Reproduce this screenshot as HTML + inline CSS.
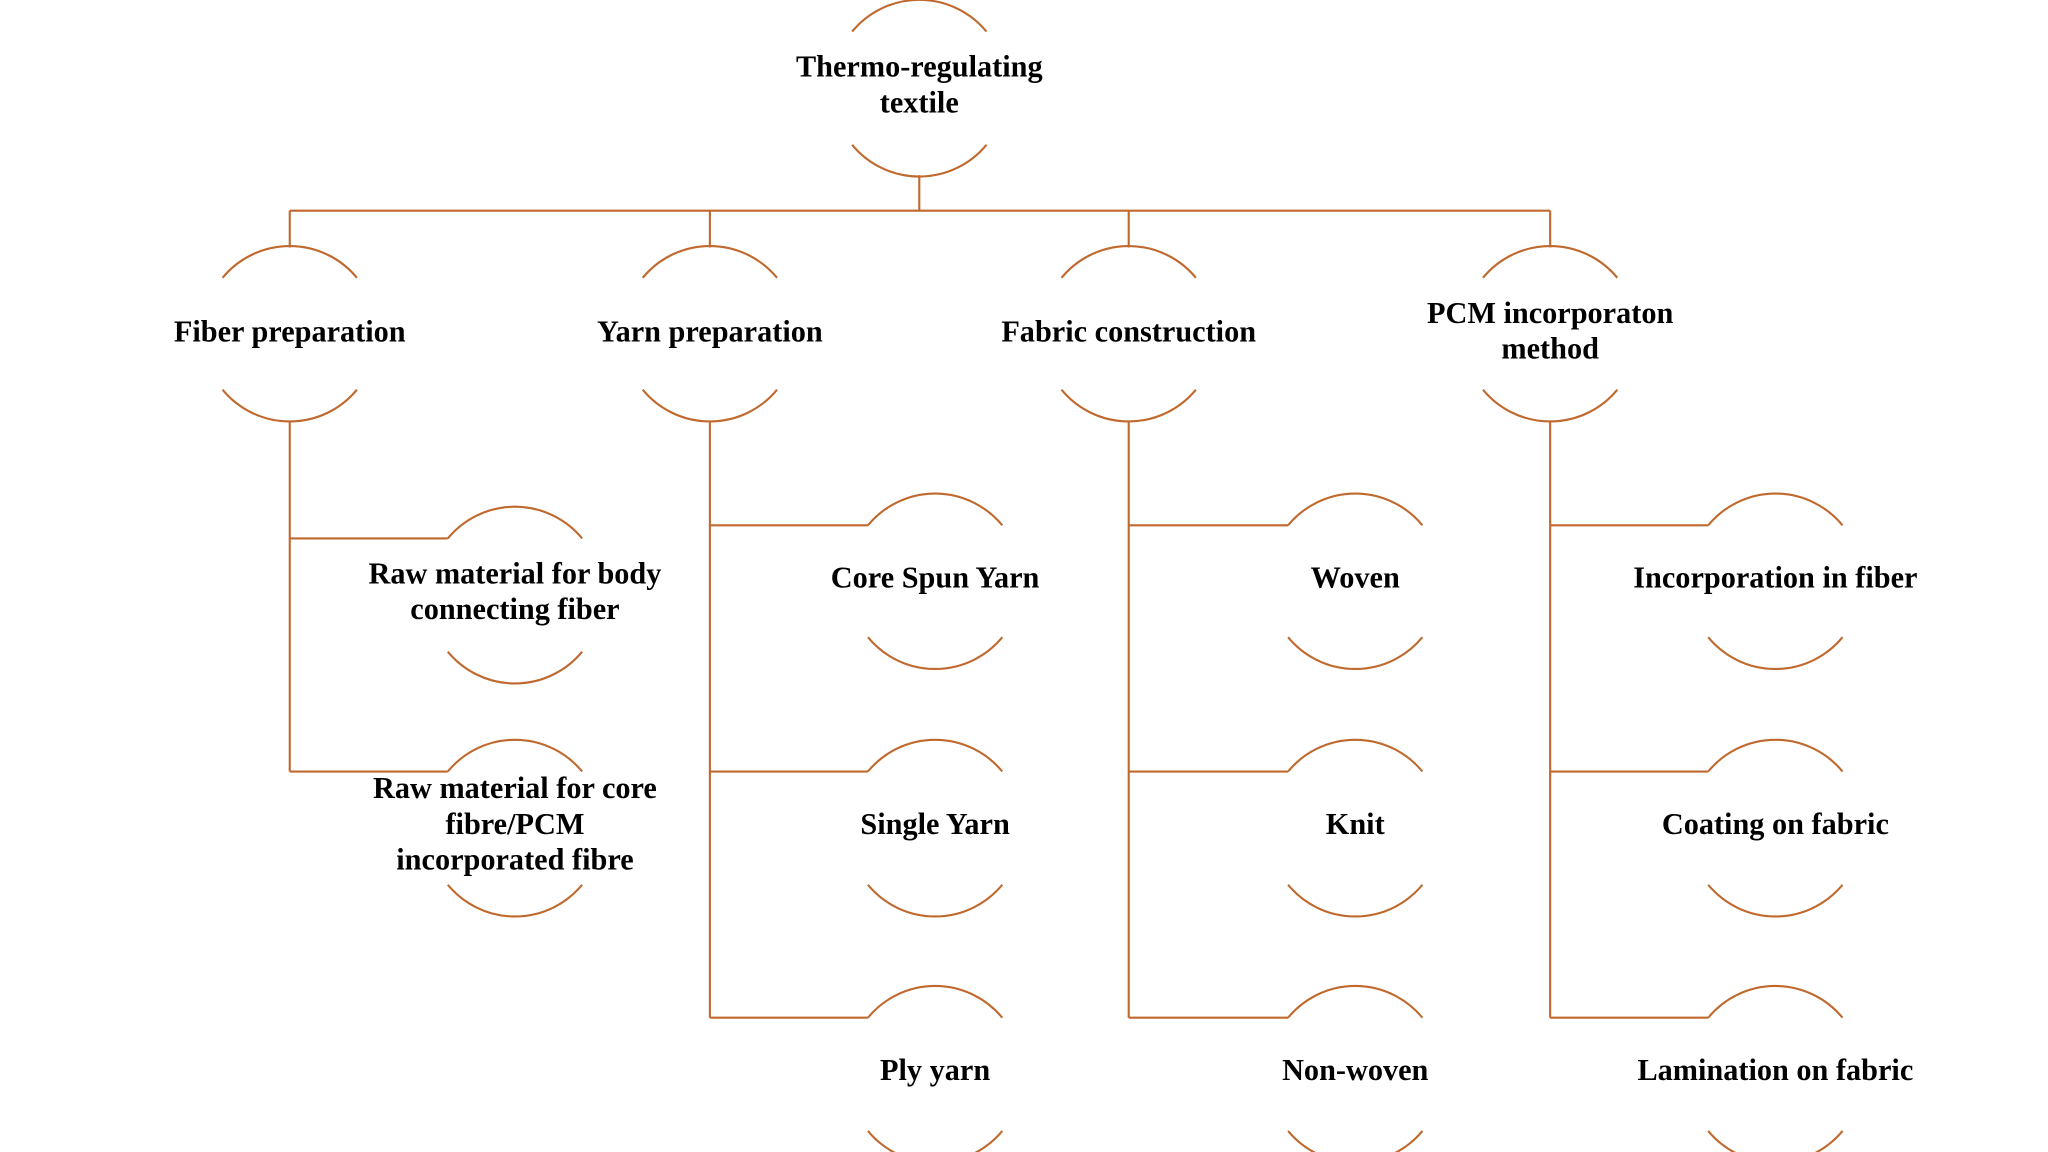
<!DOCTYPE html>
<html><head><meta charset="utf-8"><style>
html,body{margin:0;padding:0;background:#fff;}
svg{display:block;}
text{font-family:"Liberation Serif",serif;font-weight:bold;font-size:23px;fill:#000;text-anchor:middle;dominant-baseline:middle;}
</style></head><body>
<svg width="2048" height="1152" viewBox="0 0 1555 875" preserveAspectRatio="none" xmlns="http://www.w3.org/2000/svg">
<g fill="none" stroke="#c0692e" stroke-width="1.6">
<!-- root -->
<path d="M647 24 A66 66 0 0 1 749 24"/>
<path d="M647 110 A66 66 0 0 0 749 110"/>
<path d="M698 133 V160 M220 160 H1177 M220 160 V188 M539 160 V188 M857 160 V188 M1177 160 V188"/>
<!-- level1 -->
<path d="M169 211 A66 66 0 0 1 271 211 M169 296 A66 66 0 0 0 271 296"/>
<path d="M488 211 A66 66 0 0 1 590 211 M488 296 A66 66 0 0 0 590 296"/>
<path d="M806 211 A66 66 0 0 1 908 211 M806 296 A66 66 0 0 0 908 296"/>
<path d="M1126 211 A66 66 0 0 1 1228 211 M1126 296 A66 66 0 0 0 1228 296"/>
<!-- fiber children -->
<path d="M220 320 V586 M220 409 H340 M220 586 H340"/>
<path d="M340 409 A66 66 0 0 1 442 409 M340 495 A66 66 0 0 0 442 495"/>
<path d="M340 586 A66 66 0 0 1 442 586 M340 672 A66 66 0 0 0 442 672"/>
<!-- columns -->
<path d="M539 320 V773 M539 399 H659 M539 586 H659 M539 773 H659"/>
<path d="M857 320 V773 M857 399 H978 M857 586 H978 M857 773 H978"/>
<path d="M1177 320 V773 M1177 399 H1297 M1177 586 H1297 M1177 773 H1297"/>
<path d="M659 399 A66 66 0 0 1 761 399 M659 484 A66 66 0 0 0 761 484"/>
<path d="M659 586 A66 66 0 0 1 761 586 M659 672 A66 66 0 0 0 761 672"/>
<path d="M659 773 A66 66 0 0 1 761 773 M659 859 A66 66 0 0 0 761 859"/>
<path d="M978 399 A66 66 0 0 1 1080 399 M978 484 A66 66 0 0 0 1080 484"/>
<path d="M978 586 A66 66 0 0 1 1080 586 M978 672 A66 66 0 0 0 1080 672"/>
<path d="M978 773 A66 66 0 0 1 1080 773 M978 859 A66 66 0 0 0 1080 859"/>
<path d="M1297 399 A66 66 0 0 1 1399 399 M1297 484 A66 66 0 0 0 1399 484"/>
<path d="M1297 586 A66 66 0 0 1 1399 586 M1297 672 A66 66 0 0 0 1399 672"/>
<path d="M1297 773 A66 66 0 0 1 1399 773 M1297 859 A66 66 0 0 0 1399 859"/>
</g>
<text x="698" y="53">Thermo-regulating</text>
<text x="698" y="80">textile</text>
<text x="220" y="254">Fiber preparation</text>
<text x="539" y="254">Yarn preparation</text>
<text x="857" y="254">Fabric construction</text>
<text x="1177" y="240">PCM incorporaton</text>
<text x="1177" y="267">method</text>
<text x="391" y="438">Raw material for body</text>
<text x="391" y="465">connecting fiber</text>
<text x="391" y="601">Raw material for core</text>
<text x="391" y="628">fibre/PCM</text>
<text x="391" y="655">incorporated fibre</text>
<text x="710" y="441">Core Spun Yarn</text>
<text x="710" y="628">Single Yarn</text>
<text x="710" y="815">Ply yarn</text>
<text x="1029" y="441">Woven</text>
<text x="1029" y="628">Knit</text>
<text x="1029" y="815">Non-woven</text>
<text x="1348" y="441">Incorporation in fiber</text>
<text x="1348" y="628">Coating on fabric</text>
<text x="1348" y="815">Lamination on fabric</text>
</svg>
</body></html>
